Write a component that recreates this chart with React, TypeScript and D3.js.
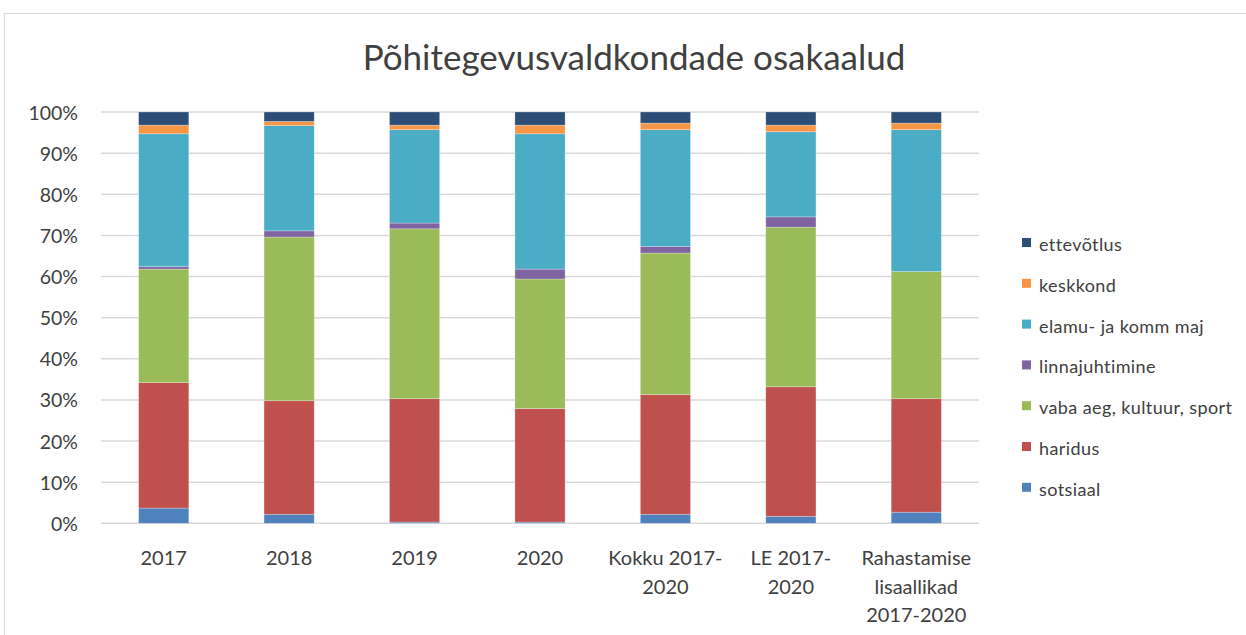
import { useEffect, useRef } from 'react';
import * as d3 from 'd3';

const CATEGORIES = ['2017', '2018', '2019', '2020', 'Kokku 2017-2020', 'LE 2017-2020', 'Rahastamise lisaallikad 2017-2020'];
const CATEGORY_LINES = [['2017'], ['2018'], ['2019'], ['2020'], ['Kokku 2017-', '2020'], ['LE 2017-', '2020'], ['Rahastamise', 'lisaallikad', '2017-2020']];

// shares in %, stacked bottom to top
const SOTSIAAL = [3.7, 2.2, 0.3, 0.3, 2.2, 1.7, 2.7];
const HARIDUS = [30.5, 27.6, 30.0, 27.6, 29.1, 31.5, 27.6];
const VABA_AEG = [27.6, 39.8, 41.3, 31.5, 34.4, 38.8, 30.9];
const LINNAJUHTIMINE = [0.6, 1.5, 1.4, 2.4, 1.6, 2.5, 0];
const ELAMU = [32.3, 25.6, 22.7, 32.9, 28.4, 20.7, 34.5];
const KESKKOND = [2.1, 1.0, 1.1, 2.1, 1.6, 1.6, 1.6];
const ETTEVOTLUS = [3.2, 2.3, 3.2, 3.2, 2.7, 3.2, 2.7];

const SERIES = [
  { key: 'sotsiaal', label: 'sotsiaal', values: SOTSIAAL, color: '#4F81BD' },
  { key: 'haridus', label: 'haridus', values: HARIDUS, color: '#C0504D' },
  { key: 'vaba', label: 'vaba aeg, kultuur, sport', values: VABA_AEG, color: '#9BBB59' },
  { key: 'linna', label: 'linnajuhtimine', values: LINNAJUHTIMINE, color: '#8064A2' },
  { key: 'elamu', label: 'elamu- ja komm maj', values: ELAMU, color: '#4BACC6' },
  { key: 'keskkond', label: 'keskkond', values: KESKKOND, color: '#F79646' },
  { key: 'ettevotlus', label: 'ettevõtlus', values: ETTEVOTLUS, color: '#2C4D75' },
];

const Y_TICKS = [0, 10, 20, 30, 40, 50, 60, 70, 80, 90, 100];

const FONT = 'Lato, "Open Sans", sans-serif';

export default function App() {
  const ref = useRef<SVGSVGElement>(null);

  useEffect(() => {
    if (!ref.current) return;
    const svg = d3.select(ref.current);
    svg.selectAll('*').remove();

    const W = 1246, H = 635;
    const plot = { left: 101, right: 979, top: 112, bottom: 523.3 };

    svg.append('rect').attr('x', 0).attr('y', 0).attr('width', W).attr('height', H).attr('fill', '#fff');
    // chart border
    svg.append('rect').attr('x', 4.5).attr('y', 13.5).attr('width', 1300).attr('height', 700)
      .attr('fill', 'none').attr('stroke', '#d9d9d9').attr('stroke-width', 1);

    // title
    svg.append('text').attr('x', 634).attr('y', 70).attr('text-anchor', 'middle')
      .attr('font-family', FONT).attr('font-size', 35).attr('fill', '#404040')
      .text('Põhitegevusvaldkondade osakaalud');

    const x = d3.scaleBand().domain(CATEGORIES).range([plot.left, plot.right]).paddingInner(0.6).paddingOuter(0.3);
    const y = d3.scaleLinear().domain([0, 100]).range([plot.bottom, plot.top]);

    // grid
    svg.append('g').selectAll('line').data(Y_TICKS).join('line')
      .attr('x1', plot.left).attr('x2', plot.right)
      .attr('y1', d => y(d)).attr('y2', d => y(d))
      .attr('stroke', '#d9d9d9').attr('stroke-width', 1.5);

    // y labels
    svg.append('g').selectAll('text').data(Y_TICKS).join('text')
      .attr('x', 78).attr('y', d => y(d) + 7.5).attr('text-anchor', 'end')
      .attr('font-family', FONT).attr('font-size', 19.5).attr('fill', '#404040')
      .text(d => `${d}%`);

    // stacked bars
    const rows = CATEGORIES.map((c, i) => {
      const r: Record<string, number | string> = { cat: c };
      SERIES.forEach(s => { r[s.key] = s.values[i]; });
      return r;
    });
    const stack = d3.stack<Record<string, number | string>>().keys(SERIES.map(s => s.key));
    const layers = stack(rows as any);
    layers.forEach((layer, li) => {
      svg.append('g').selectAll('rect').data(layer).join('rect')
        .attr('x', d => x(d.data.cat as string)!)
        .attr('width', x.bandwidth())
        .attr('y', d => y(d[1]))
        .attr('height', d => Math.max(0, y(d[0]) - y(d[1])))
        .attr('fill', SERIES[li].color)
        .attr('stroke', 'rgba(255,255,255,0.35)').attr('stroke-width', 0.75);
    });

    // x labels
    CATEGORIES.forEach((c, i) => {
      const cx = x(c)! + x.bandwidth() / 2;
      const t = svg.append('text').attr('x', cx).attr('y', 565)
        .attr('text-anchor', 'middle').attr('font-family', FONT).attr('font-size', 20).attr('fill', '#404040');
      CATEGORY_LINES[i].forEach((line, j) => {
        t.append('tspan').attr('x', cx).attr('dy', j === 0 ? 0 : 28.5).text(line);
      });
    });

    // legend
    const legend = svg.append('g');
    const legendItems = [...SERIES].reverse();
    legendItems.forEach((s, i) => {
      const cy = 243 + i * 40.8;
      legend.append('rect').attr('x', 1022).attr('y', cy - 5).attr('width', 9).attr('height', 9).attr('fill', s.color);
      legend.append('text').attr('x', 1039).attr('y', cy + 8)
        .attr('font-family', FONT).attr('font-size', 18).attr('letter-spacing', 0.4).attr('fill', '#404040').text(s.label);
    });
  }, []);

  return <svg ref={ref} width={1246} height={635} style={{ position: 'absolute', left: 0, top: 0 }} />;
}
